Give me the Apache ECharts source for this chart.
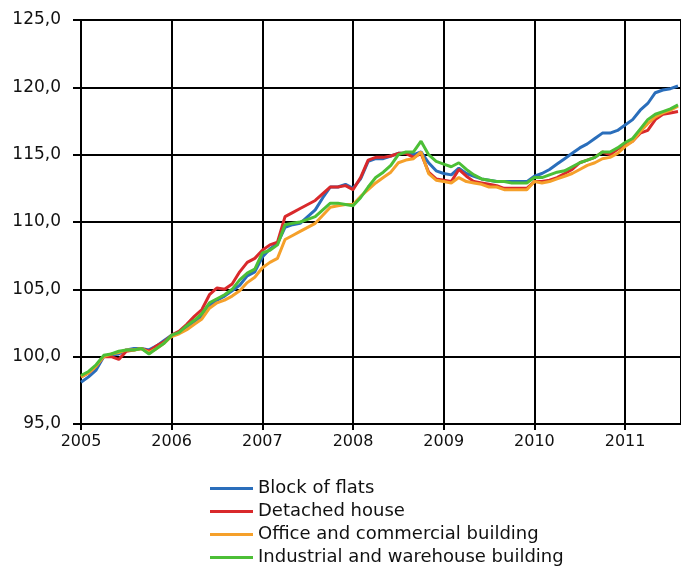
<!DOCTYPE html>
<html>
<head>
<meta charset="utf-8">
<script src="https://cdn.jsdelivr.net/npm/echarts@6/dist/echarts.min.js"></script>
<style>
  html, body { margin: 0; padding: 0; background: #fff; }
  #main { width: 681px; height: 572px; }
</style>
</head>
<body>
<div id="main"></div>
<script>
// monthly index, Jan 2005 = 0
const startYear = 2005;
const seriesNames = ['Block of flats', 'Detached house', 'Office and commercial building', 'Industrial and warehouse building'];

const blockOfFlats = [
  98.1, 98.5, 99.0, 100.0, 100.1, 100.2, 100.5, 100.6, 100.6, 100.5, 100.8, 101.2,
  101.6, 101.8, 102.2, 102.6, 103.0, 103.8, 104.2, 104.5, 104.9, 105.3, 106.0, 106.3,
  107.4, 108.0, 108.4, 109.6, 109.8, 109.9, 110.4, 110.9, 111.8, 112.6, 112.6, 112.8,
  112.5, 113.2, 114.5, 114.7, 114.7, 114.9, 115.1, 115.1, 115.0, 115.2, 114.4, 113.8,
  113.6, 113.5, 114.0, 113.6, 113.4, 113.2, 113.1, 113.0, 113.0, 113.0, 113.0, 113.0,
  113.4, 113.6, 113.9, 114.3, 114.7, 115.1, 115.5, 115.8, 116.2, 116.6, 116.6, 116.8,
  117.2, 117.6, 118.3, 118.8, 119.6, 119.8, 119.9, 120.1
];
const detachedHouse = [
  98.5, 98.8, 99.3, 100.0, 100.0, 99.8, 100.4, 100.5, 100.6, 100.4, 100.8, 101.1,
  101.6, 101.9, 102.4, 103.0, 103.5, 104.6, 105.1, 105.0, 105.4, 106.3, 107.0, 107.3,
  107.9, 108.3, 108.5, 110.4, 110.7, 111.0, 111.3, 111.6, 112.1, 112.6, 112.6, 112.7,
  112.4, 113.3, 114.6, 114.8, 114.8, 114.9, 115.1, 115.1, 114.8, 115.1, 113.7, 113.2,
  113.1, 113.0, 113.9, 113.4, 113.0, 112.9, 112.8, 112.7, 112.5, 112.5, 112.5, 112.5,
  113.0, 113.0, 113.1, 113.3, 113.6, 113.9, 114.4, 114.6, 114.8, 115.2, 115.0, 115.4,
  115.7, 116.0, 116.6, 116.8, 117.6, 118.0, 118.1, 118.2
];
const officeCommercial = [
  98.5, 98.8, 99.3, 100.0, 100.2, 100.3, 100.5, 100.5, 100.6, 100.3, 100.6, 101.0,
  101.5, 101.7, 102.0, 102.4, 102.8, 103.6, 104.0, 104.2, 104.5, 104.9, 105.5, 105.9,
  106.6, 107.0, 107.3, 108.7, 109.0, 109.3, 109.6, 109.9, 110.5, 111.1, 111.2, 111.3,
  111.3, 111.9, 112.4, 112.9, 113.3, 113.7, 114.4, 114.6, 114.7, 115.2, 113.6, 113.1,
  113.0, 112.9, 113.3, 113.0, 112.9, 112.8, 112.6, 112.6, 112.4, 112.4, 112.4, 112.4,
  113.0, 112.9, 113.0, 113.2, 113.4, 113.6, 113.9, 114.2, 114.4, 114.7, 114.8, 115.1,
  115.6, 116.0, 116.7, 117.3, 117.8, 118.1, 118.3, 118.6
];
const industrialWarehouse = [
  98.6, 98.9, 99.4, 100.1, 100.2, 100.4, 100.5, 100.5, 100.6, 100.2, 100.6, 101.0,
  101.6, 101.8, 102.3, 102.7, 103.2, 104.0, 104.3, 104.6, 105.0, 105.7, 106.2, 106.5,
  107.7, 107.9, 108.3, 109.8, 109.9, 110.0, 110.2, 110.4, 110.9, 111.4, 111.4, 111.3,
  111.2, 111.8, 112.6, 113.3, 113.7, 114.2, 115.0, 115.2, 115.2, 116.0, 115.0, 114.5,
  114.3, 114.1, 114.4, 113.9, 113.5, 113.2, 113.1, 113.0, 113.0, 112.9, 112.9, 112.9,
  113.3, 113.3, 113.5, 113.7, 113.8, 114.1, 114.4, 114.6, 114.8, 115.2, 115.2, 115.5,
  115.9, 116.2, 116.9, 117.6, 118.0, 118.2, 118.4, 118.7
];

const colors = ['#2a6ebb', '#d9292b', '#f5a02a', '#4cbf36'];
const allValues = [blockOfFlats, detachedHouse, officeCommercial, industrialWarehouse];

const chart = echarts.init(document.getElementById('main'), null, { renderer: 'canvas' });

const series = seriesNames.map((name, k) => ({
  name: name,
  type: 'line',
  symbol: 'none',
  data: allValues[k].map((v, i) => [i, v]),
  lineStyle: { width: 3, color: colors[k] },
  itemStyle: { color: colors[k] },
  animation: false
}));

chart.setOption({
  animation: false,
  textStyle: { fontFamily: 'DejaVu Sans' },
  grid: { left: 81, top: 20, right: 0, bottom: 148 },
  xAxis: {
    type: 'value',
    min: 0,
    max: 79.4,
    interval: 12,
    axisLine: { lineStyle: { color: '#000', width: 2 } },
    axisTick: { show: true, length: 6, lineStyle: { color: '#000', width: 2 } },
    axisLabel: {
      color: '#111', fontSize: 16, margin: 10, showMaxLabel: false,
      formatter: v => String(startYear + v / 12)
    },
    splitLine: { show: true, lineStyle: { color: '#000', width: 2 } }
  },
  yAxis: {
    type: 'value',
    min: 95,
    max: 125,
    interval: 5,
    axisLine: { show: true, lineStyle: { color: '#000', width: 2 } },
    axisTick: { show: true, length: 8, lineStyle: { color: '#000', width: 2 } },
    axisLabel: {
      color: '#111', fontSize: 17, margin: 20,
      formatter: v => v.toFixed(1).replace('.', ',')
    },
    splitLine: { show: true, lineStyle: { color: '#000', width: 2 } }
  },
  legend: {
    orient: 'vertical',
    left: 210,
    top: 477,
    padding: 0,
    itemWidth: 43,
    itemHeight: 3,
    itemGap: 0,
    icon: 'rect',
    textStyle: { fontSize: 18, color: '#111', lineHeight: 23 },
    data: seriesNames
  },
  series: series
});
</script>
</body>
</html>
